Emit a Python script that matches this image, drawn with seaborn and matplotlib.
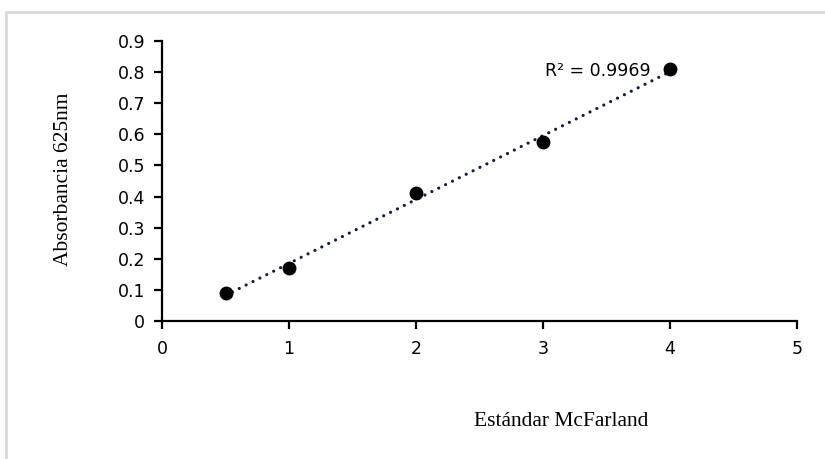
import numpy as np
import pandas as pd
import seaborn as sns
import matplotlib.pyplot as plt
from matplotlib.patches import Rectangle

# McFarland standards and measured absorbance at 625 nm
mcfarland = [0.5, 1, 2, 3, 4]
absorbance = [0.09, 0.17, 0.41, 0.575, 0.81]
x_ticks = [0, 1, 2, 3, 4, 5]
y_ticks = [0, 0.1, 0.2, 0.3, 0.4, 0.5, 0.6, 0.7, 0.8, 0.9]
r2_label = "R² = 0.9969"

df = pd.DataFrame({"McFarland": mcfarland, "Absorbancia": absorbance})

sns.set_style("white")
plt.rcParams["text.color"] = "black"
plt.rcParams["xtick.color"] = "black"
plt.rcParams["ytick.color"] = "black"
tick_font = ["DejaVu Sans"]
title_font = ["Liberation Serif", "DejaVu Serif"]

fig = plt.figure(figsize=(8.25, 4.59), dpi=100)
ax = fig.add_axes([162 / 825, 1 - 321 / 459, (797 - 162) / 825, (321 - 41) / 459])

# outer chart frame
fig.patches.append(Rectangle((5.5 / 825, -0.1), 1.0, 1 - 12.5 / 459 + 0.1,
                             transform=fig.transFigure, fill=False,
                             edgecolor="#d9d9d9", linewidth=2.0, zorder=0))

# linear trend line over the measured range
slope, intercept = np.polyfit(mcfarland, absorbance, 1)
xs = np.array([min(mcfarland), max(mcfarland)])
ax.plot(xs, slope * xs + intercept, linestyle=(0, (0.01, 2.4)), color="#0f1c3a",
        linewidth=2.3, zorder=2, dash_capstyle="round", solid_capstyle="round")

sns.scatterplot(data=df, x="McFarland", y="Absorbancia", ax=ax, color="black",
                s=100, edgecolor="black", linewidth=0, zorder=3)

ax.set_xlim(0, 5)
ax.set_ylim(0, 0.9)
ax.set_xticks(x_ticks)
ax.set_yticks(y_ticks)
ax.set_xticklabels([f"{v:g}" for v in x_ticks], fontsize=12.5, family=tick_font)
ax.set_yticklabels([f"{v:g}" for v in y_ticks], fontsize=12.5, family=tick_font)

for side in ["top", "right"]:
    ax.spines[side].set_visible(False)
for side in ["left", "bottom"]:
    ax.spines[side].set_linewidth(1.6)
    ax.spines[side].set_color("black")
    ax.spines[side].set_capstyle("projecting")

ax.tick_params(axis="y", direction="out", length=6, width=1.6, pad=6, left=True)
ax.tick_params(axis="x", direction="out", length=6, width=1.6, pad=8, bottom=True)

ax.set_xlabel("")
ax.set_ylabel("")
fig.text(561 / 825, 1 - 421 / 459, "Estándar McFarland", ha="center", va="center",
         fontsize=15.5, family=title_font)
fig.text(63 / 825, 1 - 179 / 459, "Absorbancia 625nm", ha="center", va="center",
         rotation=90, fontsize=15.5, family=title_font)

ax.text(3.43, 0.803, r2_label, ha="center", va="center", fontsize=12.5,
        family=tick_font)

fig.savefig("out.png", dpi=100)
